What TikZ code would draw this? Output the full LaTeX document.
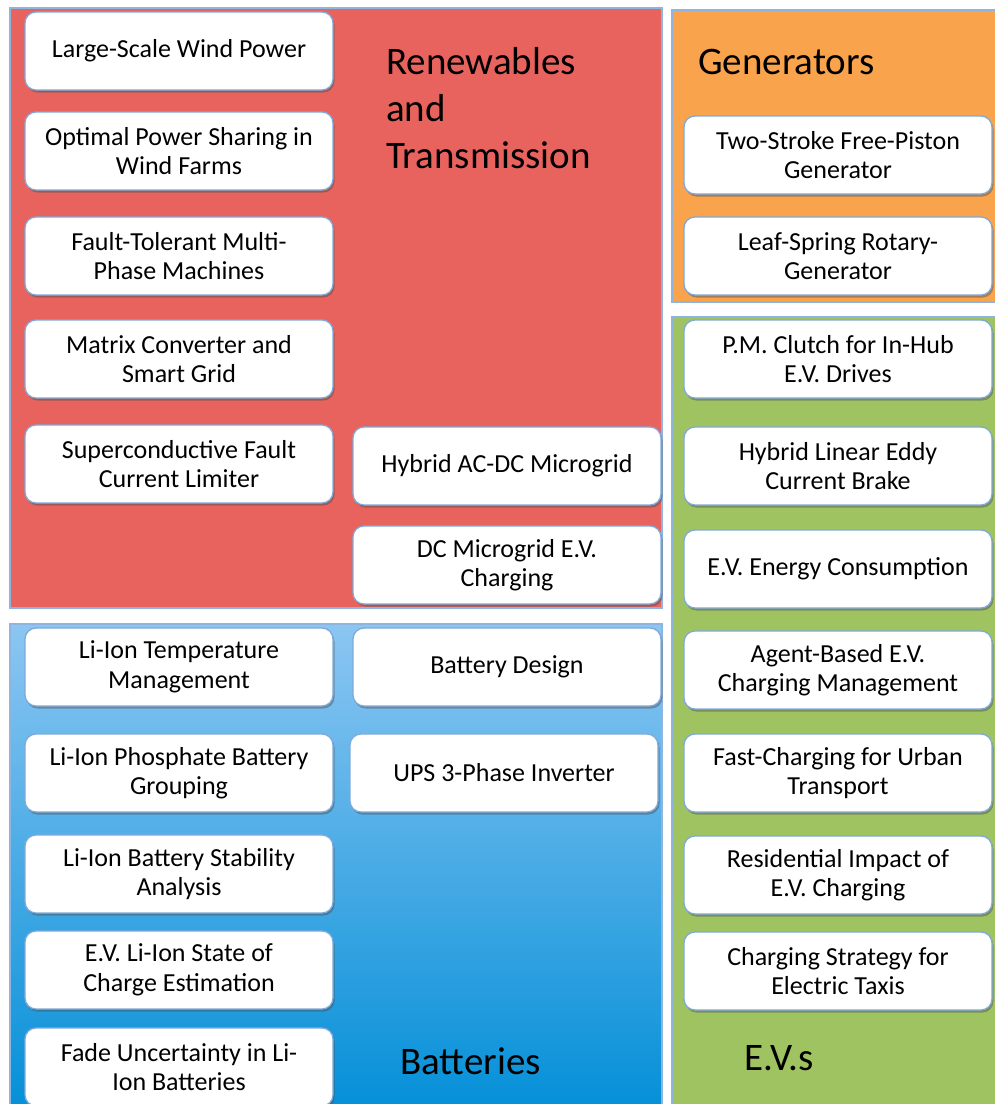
\documentclass[tikz,border=0pt]{standalone}
\usepackage{fontspec}
\setmainfont{Carlito}
\usetikzlibrary{shadows}
\definecolor{redp}{HTML}{E8635D}
\definecolor{orangep}{HTML}{F9A34C}
\definecolor{greenp}{HTML}{A0C362}
\definecolor{bluetop}{HTML}{8CC6F2}
\definecolor{bluebot}{HTML}{0590D8}
\definecolor{edgeb}{HTML}{7FA9DA}
\definecolor{paneledge}{HTML}{8FB4E0}
\tikzset{
  panel/.style={draw=paneledge, line width=1.2pt},
  topic/.style={draw=edgeb, line width=1.3pt, fill=white, rounded corners=11pt,
    minimum width=308pt, minimum height=78pt, align=center, inner sep=2pt,
    font=\fontsize{26}{29.5}\selectfont,
    drop shadow={shadow xshift=1.5pt, shadow yshift=-2.5pt, opacity=0.45, fill=black!70}},
  heading/.style={anchor=west, align=left, font=\fontsize{39}{47}\selectfont, inner sep=0pt}
}
\begin{document}
\begin{tikzpicture}[x=1pt,y=-1pt]
\useasboundingbox (0,0) rectangle (995,1104);
\fill[white] (0,0) rectangle (995,1104);
% panels
\draw[panel, fill=redp] (10,8) rectangle (662,608);
\draw[panel, fill=orangep] (672,10) rectangle (998,302);
\draw[panel, fill=greenp] (672,317) rectangle (998,1108);
\draw[panel, top color=bluetop, bottom color=bluebot] (10,624) rectangle (662,1108);
% headings
\node[heading] (hren) at (386,108) {Renewables\\and\\Transmission};
\node[heading] (hgen) at (698,62) {Generators};
\node[heading] (hbat) at (400,1061) {Batteries};
\node[heading] (hev) at (744,1058) {E.V.s};
% left column
\node[topic] (t1) at (179,51) {Large-Scale Wind Power};
\node[topic] (t2) at (179,151) {Optimal Power Sharing in\\Wind Farms};
\node[topic] (t3) at (179,256) {Fault-Tolerant Multi-\\Phase Machines};
\node[topic] (t4) at (179,359) {Matrix Converter and\\Smart Grid};
\node[topic] (t5) at (179,464) {Superconductive Fault\\Current Limiter};
\node[topic] (m1) at (507,466) {Hybrid AC-DC Microgrid};
\node[topic] (m2) at (507,565) {DC Microgrid E.V.\\Charging};
% batteries
\node[topic] (b1) at (179,667) {Li-Ion Temperature\\Management};
\node[topic] (b2) at (507,667) {Battery Design};
\node[topic] (b3) at (179,773) {Li-Ion Phosphate Battery\\Grouping};
\node[topic] (b4) at (504,773) {UPS 3-Phase Inverter};
\node[topic] (b5) at (179,874) {Li-Ion Battery Stability\\Analysis};
\node[topic] (b6) at (179,970) {E.V. Li-Ion State of\\Charge Estimation};
\node[topic] (b7) at (179,1067) {Fade Uncertainty in Li-\\Ion Batteries};
% generators
\node[topic] (g1) at (838,155) {Two-Stroke Free-Piston\\Generator};
\node[topic] (g2) at (838,256) {Leaf-Spring Rotary-\\Generator};
% EVs
\node[topic] (e1) at (838,359) {P.M. Clutch for In-Hub\\E.V. Drives};
\node[topic] (e2) at (838,466) {Hybrid Linear Eddy\\Current Brake};
\node[topic] (e3) at (838,569) {E.V. Energy Consumption};
\node[topic] (e4) at (838,670) {Agent-Based E.V.\\Charging Management};
\node[topic] (e5) at (838,773) {Fast-Charging for Urban\\Transport};
\node[topic] (e6) at (838,875) {Residential Impact of\\E.V. Charging};
\node[topic] (e7) at (838,971) {Charging Strategy for\\Electric Taxis};
\end{tikzpicture}
\end{document}
